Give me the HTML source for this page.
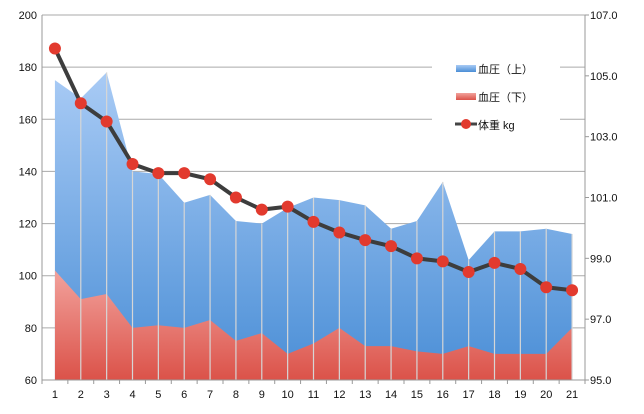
<!DOCTYPE html>
<html><head><meta charset="utf-8"><style>
body{margin:0;background:#fff;width:644px;height:409px;overflow:hidden}
svg text{font-family:"Liberation Sans","Noto Sans CJK JP",sans-serif;font-size:11px;fill:#111}
</style></head><body>
<svg id="c" width="644" height="409" xmlns="http://www.w3.org/2000/svg">
<defs>
<linearGradient id="gb" x1="0" y1="0" x2="0" y2="1"><stop offset="0" stop-color="#a9cbf5"/><stop offset="1" stop-color="#4a8ed6"/></linearGradient>
<linearGradient id="gr" x1="0" y1="0" x2="0" y2="1"><stop offset="0" stop-color="#f2a29c"/><stop offset="1" stop-color="#db5249"/></linearGradient>
</defs>
<g id="grid"></g><g id="areas"></g><g id="vlines"></g><g id="line"></g><g id="axes"></g>
<g>
<rect x="432" y="50" width="128" height="92" fill="#fff"/>
<rect x="456" y="65" width="20" height="7" fill="url(#gb)"/>
<text x="478" y="73">血圧（上）</text>
<rect x="456" y="93" width="20" height="7" fill="url(#gr)"/>
<text x="478" y="101">血圧（下）</text>
<line x1="455" y1="124" x2="477" y2="124" stroke="#444" stroke-width="3"/>
<circle cx="466" cy="124" r="5" fill="#e23a2e"/>
<text x="478" y="129">体重 kg</text>
</g>
</svg>
<script>
const categories=[1,2,3,4,5,6,7,8,9,10,11,12,13,14,15,16,17,18,19,20,21];
const upper=[175,168,178,140,139,128,131,121,120,126,130,129,127,118,121,136,106,117,117,118,116];
const lower=[102,91,93,80,81,80,83,75,78,70,74,80,73,73,71,70,73,70,70,70,80];
const weight=[105.9,104.1,103.5,102.1,101.8,101.8,101.6,101.0,100.6,100.7,100.2,99.85,99.6,99.4,99.0,98.9,98.55,98.85,98.65,98.05,97.95];
const leftTicks=[60,80,100,120,140,160,180,200];
const rightTicks=["95.0","97.0","99.0","101.0","103.0","105.0","107.0"];
const NS="http://www.w3.org/2000/svg";
const X0=42,X1=585,T=15,B=380,bw=(X1-X0)/categories.length;
const x=i=>X0+bw*(i+0.5);
const yL=v=>B-(v-60)/140*(B-T);
const yR=v=>B-(v-95)/12*(B-T);
function mk(p,tag,a){const e=document.createElementNS(NS,tag);for(const k in a)e.setAttribute(k,a[k]);document.getElementById(p).appendChild(e);return e;}
leftTicks.forEach(v=>{
 const g=mk('grid','line',{x1:X0,x2:X1,y1:yL(v),y2:yL(v),stroke:'#aaa','stroke-width':1});
 
 
 const t=mk('axes','text',{x:X0-5,y:yL(v)+4,'text-anchor':'end'});t.textContent=v;
 
 
});
rightTicks.forEach(v=>{
 const t=mk('axes','text',{x:X1+5,y:yR(+v)+4});t.textContent=v;
 
 
 mk('axes','line',{x1:X1,x2:X1+4,y1:yR(+v),y2:yR(+v),stroke:'#999'});
});
function area(vals,fill,name){
 let d='M'+x(0)+','+B;vals.forEach((v,i)=>d+='L'+x(i)+','+yL(v));d+='L'+x(vals.length-1)+','+B+'Z';
 const p=mk('areas','path',{d:d,fill:fill});
 
 
}
area(upper,'url(#gb)','area-upper-bp');
area(lower,'url(#gr)','area-lower-bp');
categories.forEach((c,i)=>{
 if(i>0){const l=mk('vlines','line',{x1:x(i),x2:x(i),y1:yL(upper[i]),y2:B,stroke:'#d6d6d6','stroke-width':1.2});
 
 }
 const t=mk('axes','text',{x:x(i),y:B+18,'text-anchor':'middle'});t.textContent=c;
 
 
});
for(let i=0;i<=categories.length;i++)mk('axes','line',{x1:X0+bw*i,x2:X0+bw*i,y1:B,y2:B+4,stroke:'#999'});
mk('axes','line',{x1:X0,x2:X0,y1:T,y2:B,stroke:'#999'});
mk('axes','line',{x1:X1,x2:X1,y1:T,y2:B,stroke:'#999'});
mk('axes','line',{x1:X0,x2:X1,y1:B,y2:B,stroke:'#999'});
const pl=mk('line','polyline',{points:weight.map((v,i)=>x(i)+','+yR(v)).join(' '),fill:'none',stroke:'#3d3d3d','stroke-width':4,'stroke-linejoin':'round'});


weight.forEach((v,i)=>{
 const c=mk('line','circle',{cx:x(i),cy:yR(v),r:6,fill:'#e23a2e'});
 
 
});
</script>
</body></html>
